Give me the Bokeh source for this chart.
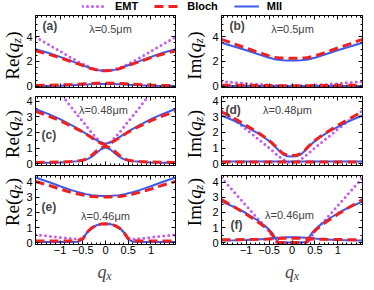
import math
from bokeh.plotting import figure
from bokeh.models import (LinearAxis, FixedTicker, Label, Legend, LegendItem, Range1d)
from bokeh.layouts import column, row
from bokeh.embed import file_html
from bokeh.resources import INLINE

# ---------------- data ----------------
X = [-1.54, -1.25, -1.0, -0.75, -0.6, -0.5, -0.45, -0.4, -0.35, -0.3, -0.2, -0.1, 0.0,
     0.1, 0.2, 0.3, 0.35, 0.4, 0.45, 0.5, 0.6, 0.75, 1.0, 1.25, 1.54]

# (a) Re(qz), lambda = 0.5 um
EMT_a_up = [3.97, 3.35, 2.82, 2.28, 1.98, 1.80, 1.71, 1.62, 1.54, 1.46, 1.34, 1.27, 1.25,
            1.27, 1.34, 1.46, 1.54, 1.62, 1.71, 1.80, 1.98, 2.28, 2.82, 3.35, 3.97]
BL_a_up = [2.85, 2.58, 2.30, 1.98, 1.80, 1.67, 1.60, 1.54, 1.47, 1.41, 1.32, 1.26, 1.24,
           1.26, 1.32, 1.41, 1.47, 1.54, 1.60, 1.67, 1.80, 1.98, 2.30, 2.58, 2.85]
MII_a_up = [2.98, 2.68, 2.37, 2.02, 1.82, 1.69, 1.62, 1.55, 1.48, 1.42, 1.32, 1.26, 1.24,
            1.26, 1.32, 1.42, 1.48, 1.55, 1.62, 1.69, 1.82, 2.02, 2.37, 2.68, 2.98]
BL_a_lo = [0.06, 0.08, 0.10, 0.14, 0.17, 0.19, 0.20, 0.21, 0.22, 0.23, 0.24, 0.25, 0.25,
           0.25, 0.24, 0.23, 0.22, 0.21, 0.20, 0.19, 0.17, 0.14, 0.10, 0.08, 0.06]
MII_a_lo = [0.02, 0.03, 0.05, 0.08, 0.11, 0.13, 0.14, 0.15, 0.16, 0.17, 0.18, 0.19, 0.19,
            0.19, 0.18, 0.17, 0.16, 0.15, 0.14, 0.13, 0.11, 0.08, 0.05, 0.03, 0.02]

# (b) Im(qz), lambda = 0.5 um
BL_b_up = [3.78, 3.40, 3.08, 2.75, 2.57, 2.45, 2.40, 2.35, 2.32, 2.30, 2.27, 2.25, 2.25,
           2.25, 2.27, 2.30, 2.32, 2.35, 2.40, 2.45, 2.57, 2.75, 3.08, 3.40, 3.78]
MII_b_up = [3.50, 3.18, 2.90, 2.60, 2.42, 2.30, 2.25, 2.20, 2.16, 2.13, 2.10, 2.08, 2.08,
            2.08, 2.10, 2.13, 2.16, 2.20, 2.25, 2.30, 2.42, 2.60, 2.90, 3.18, 3.50]
EMT_b_lo = [0.38, 0.30, 0.22, 0.15, 0.12, 0.10, 0.09, 0.08, 0.07, 0.06, 0.05, 0.05, 0.05,
            0.05, 0.05, 0.06, 0.07, 0.08, 0.09, 0.10, 0.12, 0.15, 0.22, 0.30, 0.38]
BL_b_lo = [0.08, 0.08, 0.07, 0.07, 0.06, 0.06, 0.06, 0.05, 0.05, 0.05, 0.05, 0.05, 0.05,
           0.05, 0.05, 0.05, 0.05, 0.05, 0.06, 0.06, 0.06, 0.07, 0.07, 0.08, 0.08]
MII_b_lo = [0.02, 0.02, 0.02, 0.02, 0.02, 0.02, 0.02, 0.02, 0.02, 0.02, 0.02, 0.02, 0.02,
            0.02, 0.02, 0.02, 0.02, 0.02, 0.02, 0.02, 0.02, 0.02, 0.02, 0.02, 0.02]

# (c) Re(qz), lambda = 0.48 um
EMT_c_up = [6.20, 5.30, 4.55, 3.60, 3.05, 2.70, 2.52, 2.33, 2.15, 1.97, 1.65, 1.38, 1.25,
            1.38, 1.65, 1.97, 2.15, 2.33, 2.52, 2.70, 3.05, 3.60, 4.55, 5.30, 6.20]
BL_c_up = [3.35, 3.05, 2.75, 2.40, 2.18, 2.02, 1.93, 1.84, 1.75, 1.65, 1.47, 1.30, 1.22,
           1.30, 1.47, 1.65, 1.75, 1.84, 1.93, 2.02, 2.18, 2.40, 2.75, 3.05, 3.35]
MII_c_up = [3.50, 3.17, 2.85, 2.47, 2.22, 2.05, 1.96, 1.87, 1.78, 1.68, 1.50, 1.35, 1.28,
            1.35, 1.50, 1.68, 1.78, 1.87, 1.96, 2.05, 2.22, 2.47, 2.85, 3.17, 3.50]
BL_c_lo = [0.08, 0.09, 0.10, 0.13, 0.17, 0.22, 0.27, 0.34, 0.43, 0.54, 0.80, 1.02, 1.12,
           1.02, 0.80, 0.54, 0.43, 0.34, 0.27, 0.22, 0.17, 0.13, 0.10, 0.09, 0.08]
MII_c_lo = [0.05, 0.06, 0.08, 0.12, 0.16, 0.20, 0.24, 0.29, 0.36, 0.45, 0.68, 0.92, 1.05,
            0.92, 0.68, 0.45, 0.36, 0.29, 0.24, 0.20, 0.16, 0.12, 0.08, 0.06, 0.05]

# (d) Im(qz), lambda = 0.48 um
EMT_d = [3.40, 2.78, 2.20, 1.60, 1.25, 1.00, 0.88, 0.75, 0.62, 0.50, 0.28, 0.10, 0.03,
         0.10, 0.28, 0.50, 0.62, 0.75, 0.88, 1.00, 1.25, 1.60, 2.20, 2.78, 3.40]
BL_d_up = [3.32, 2.88, 2.45, 2.00, 1.70, 1.48, 1.36, 1.22, 1.08, 0.92, 0.66, 0.54, 0.52,
           0.54, 0.66, 0.92, 1.08, 1.22, 1.36, 1.48, 1.70, 2.00, 2.45, 2.88, 3.32]
MII_d_up = [3.08, 2.72, 2.36, 1.95, 1.66, 1.44, 1.32, 1.18, 1.03, 0.87, 0.60, 0.47, 0.45,
            0.47, 0.60, 0.87, 1.03, 1.18, 1.32, 1.44, 1.66, 1.95, 2.36, 2.72, 3.08]
BL_d_lo = [0.10, 0.10, 0.10, 0.10, 0.10, 0.10, 0.10, 0.10, 0.10, 0.10, 0.10, 0.10, 0.10,
           0.10, 0.10, 0.10, 0.10, 0.10, 0.10, 0.10, 0.10, 0.10, 0.10, 0.10, 0.10]
MII_d_lo = [0.13, 0.13, 0.13, 0.13, 0.13, 0.13, 0.13, 0.13, 0.13, 0.13, 0.13, 0.13, 0.13,
            0.13, 0.13, 0.13, 0.13, 0.13, 0.13, 0.13, 0.13, 0.13, 0.13, 0.13, 0.13]

# (e) Re(qz), lambda = 0.46 um
MII_e_up = [4.32, 4.02, 3.74, 3.48, 3.35, 3.27, 3.23, 3.20, 3.17, 3.15, 3.12, 3.10, 3.10,
            3.10, 3.12, 3.15, 3.17, 3.20, 3.23, 3.27, 3.35, 3.48, 3.74, 4.02, 4.32]
BL_e_up = [4.05, 3.80, 3.55, 3.33, 3.22, 3.16, 3.13, 3.10, 3.08, 3.06, 3.04, 3.03, 3.03,
           3.03, 3.04, 3.06, 3.08, 3.10, 3.13, 3.16, 3.22, 3.33, 3.55, 3.80, 4.05]
EMT_e_lo = [0.52, 0.43, 0.35, 0.27, 0.22, 0.30, 0.50, 0.70, 0.86, 0.98, 1.15, 1.23, 1.25,
            1.23, 1.15, 0.98, 0.86, 0.70, 0.50, 0.30, 0.22, 0.27, 0.35, 0.43, 0.52]
BL_e_lo = [0.12, 0.12, 0.12, 0.12, 0.13, 0.25, 0.48, 0.70, 0.86, 0.98, 1.15, 1.23, 1.25,
           1.23, 1.15, 0.98, 0.86, 0.70, 0.48, 0.25, 0.13, 0.12, 0.12, 0.12, 0.12]
MII_e_lo = [0.05, 0.05, 0.05, 0.05, 0.07, 0.22, 0.47, 0.70, 0.86, 0.98, 1.15, 1.23, 1.25,
            1.23, 1.15, 0.98, 0.86, 0.70, 0.47, 0.22, 0.07, 0.05, 0.05, 0.05, 0.05]

# (f) Im(qz), lambda = 0.46 um
EMT_f = [4.30, 3.30, 2.45, 1.60, 1.10, 0.75, 0.52, 0.20, 0.03, 0.02, 0.02, 0.02, 0.02,
         0.02, 0.02, 0.02, 0.03, 0.20, 0.52, 0.75, 1.10, 1.60, 2.45, 3.30, 4.30]
BL_f_up = [2.85, 2.35, 1.88, 1.38, 1.05, 0.80, 0.62, 0.40, 0.10, 0.02, 0.02, 0.02, 0.02,
           0.02, 0.02, 0.02, 0.10, 0.40, 0.62, 0.80, 1.05, 1.38, 1.88, 2.35, 2.85]
MII_f_up = [2.72, 2.35, 1.95, 1.47, 1.13, 0.87, 0.70, 0.48, 0.22, 0.05, 0.02, 0.02, 0.02,
            0.02, 0.02, 0.05, 0.22, 0.48, 0.70, 0.87, 1.13, 1.47, 1.95, 2.35, 2.72]
BL_f_lo = [0.20, 0.20, 0.21, 0.22, 0.23, 0.24, 0.25, 0.26, 0.27, 0.28, 0.29, 0.30, 0.30,
           0.30, 0.29, 0.28, 0.27, 0.26, 0.25, 0.24, 0.23, 0.22, 0.21, 0.20, 0.20]
MII_f_lo = [0.15, 0.16, 0.18, 0.21, 0.24, 0.27, 0.29, 0.31, 0.32, 0.33, 0.35, 0.36, 0.36,
            0.36, 0.35, 0.33, 0.32, 0.31, 0.29, 0.27, 0.24, 0.21, 0.18, 0.16, 0.15]

# ticks
X_TICKS = [-1, -0.5, 0, 0.5, 1]
X_TICK_LABELS = ["\u22121", "\u22120.5", "0", "0.5", "1"]
X_MINOR = [-1.5, -1.4, -1.3, -1.2, -1.1, -0.9, -0.8, -0.7, -0.6, -0.4, -0.3, -0.2, -0.1,
           0.1, 0.2, 0.3, 0.4, 0.6, 0.7, 0.8, 0.9, 1.1, 1.2, 1.3, 1.4, 1.5]
Y1_TICKS = [0, 2, 4]
Y1_MINOR = [0.5, 1, 1.5, 2.5, 3, 3.5, 4.5, 5, 5.5]
Y2_TICKS = [0, 1, 2, 3, 4]
Y2_MINOR = [0.5, 1.5, 2.5, 3.5]

LAMBDAS = ["\u03bb=0.5\u03bcm", "\u03bb=0.48\u03bcm", "\u03bb=0.46\u03bcm"]
NAMES = ["EMT", "Bloch", "MII"]

# ---------------- styling ----------------
STYLE = {
    "EMT": dict(line_color="#c65cf0", line_width=3, line_dash="0 5", line_cap="round"),
    "Bloch": dict(line_color="#ee2020", line_width=3, line_dash="9 5", line_cap="butt"),
    "MII": dict(line_color="#3b5bea", line_width=2, line_dash="solid", line_cap="butt"),
}
SANS = "Liberation Sans"
SERIF = "Liberation Serif"
XR = (-1.54, 1.54)


def style_axis(ax, ticks, minor, labels, standoff=4):
    ax.ticker = FixedTicker(ticks=ticks, minor_ticks=minor)
    if labels is None:
        ax.major_label_overrides = {t: "" for t in ticks}
    else:
        ax.major_label_overrides = {t: l for t, l in zip(ticks, labels)}
    ax.major_tick_in = 4
    ax.major_tick_out = 0
    ax.minor_tick_in = 2
    ax.minor_tick_out = 0
    ax.axis_line_color = "black"
    ax.major_tick_line_color = "black"
    ax.minor_tick_line_color = "black"
    ax.major_label_text_font = SANS
    ax.major_label_text_font_size = "11px"
    ax.major_label_text_color = "black"
    ax.major_label_standoff = standoff
    ax.axis_label_standoff = 0


def blank(width, height):
    s = figure(width=width, height=height, x_range=Range1d(0, 1), y_range=Range1d(0, 1),
               x_axis_type=None, y_axis_type=None, output_backend="svg",
               toolbar_location=None, min_border=0)
    s.outline_line_color = None
    s.background_fill_color = "white"
    s.border_fill_color = "white"
    return s


def make_panel(width, height, bl, br, bt, bb, yr, yt, ym, series, letter, letter_pos,
               lam, lam_pos, bottom_labels):
    p = figure(width=width, height=height, x_range=Range1d(*XR), y_range=Range1d(*yr),
               x_axis_type=None, y_axis_type=None, output_backend="svg",
               toolbar_location=None, min_border_left=bl, min_border_right=br,
               min_border_top=bt, min_border_bottom=bb)
    p.outline_line_color = "black"
    p.background_fill_color = "white"
    p.border_fill_color = "white"

    left = LinearAxis()
    style_axis(left, yt, ym, [str(t) for t in yt], 3)
    p.add_layout(left, "left")
    right = LinearAxis()
    style_axis(right, yt, ym, None, 0)
    p.add_layout(right, "right")
    below = LinearAxis()
    style_axis(below, X_TICKS, X_MINOR, X_TICK_LABELS if bottom_labels else None, 1 if bottom_labels else 0)
    p.add_layout(below, "below")
    above = LinearAxis()
    style_axis(above, X_TICKS, X_MINOR, None, 0)
    p.add_layout(above, "above")

    order = {"EMT": 0, "MII": 1, "Bloch": 2}
    for name, ys in sorted(series, key=lambda s: order[s[0]]):
        p.line(X, ys, **STYLE[name])

    p.add_layout(Label(x=letter_pos[0], y=letter_pos[1], x_units="screen", y_units="screen",
                       text=letter, text_font=SANS, text_font_size="12px",
                       text_font_style="bold", text_baseline="middle", text_align="left"))
    p.add_layout(Label(x=lam_pos[0], y=lam_pos[1], x_units="screen", y_units="screen",
                       text=lam, text_font=SANS, text_font_size="11px",
                       text_baseline="middle", text_align="center"))
    return p


def ylabel_strip(width, height, bb, fh, prefix, mid_x):
    s = blank(width, height)
    fs = 19
    w_pre = 27.4
    w_q = 9.5
    w_z = 5.1
    w_par = 6.3
    total = w_pre + w_q + w_z + w_par
    y0 = bb + fh / 2 - total / 2 - 8
    pieces = [
        (prefix + "(", y0 + w_pre / 2, mid_x, "normal", fs),
        ("q", y0 + w_pre + w_q / 2, mid_x, "italic", fs),
        ("z", y0 + w_pre + w_q + w_z / 2 - 0.5, mid_x + 4, "italic", 13),
        (")", y0 + w_pre + w_q + w_z + w_par / 2, mid_x, "normal", fs),
    ]
    for txt, yy, xx, sty, size in pieces:
        s.add_layout(Label(x=xx, y=yy, x_units="screen", y_units="screen", text=txt,
                           angle=math.pi / 2, text_font=SERIF, text_font_size=f"{size}px",
                           text_font_style=sty, text_baseline="middle",
                           text_align="center", text_color="black"))
    return s


SL_W, LW, LBL, LBR = 23, 159, 10, 7
SR_W, RW, RBL, RBR = 24, 160, 15, 4
ROWS = [
    dict(h=77, bt=1, bb=4, yr=(-0.1, 5.7), yt=Y1_TICKS, ym=Y1_MINOR, xl=False),
    dict(h=79, bt=5, bb=5, yr=(-0.12, 4.3), yt=Y2_TICKS, ym=Y2_MINOR, xl=False),
    dict(h=90, bt=5, bb=16, yr=(-0.12, 4.45), yt=Y2_TICKS, ym=Y2_MINOR, xl=True),
]

LEFT_SERIES = [
    [("EMT", EMT_a_up), ("Bloch", BL_a_up), ("Bloch", BL_a_lo), ("MII", MII_a_up), ("MII", MII_a_lo)],
    [("EMT", EMT_c_up), ("Bloch", BL_c_up), ("Bloch", BL_c_lo), ("MII", MII_c_up), ("MII", MII_c_lo)],
    [("EMT", EMT_e_lo), ("Bloch", BL_e_up), ("Bloch", BL_e_lo), ("MII", MII_e_up), ("MII", MII_e_lo)],
]
RIGHT_SERIES = [
    [("EMT", EMT_b_lo), ("Bloch", BL_b_up), ("Bloch", BL_b_lo), ("MII", MII_b_up), ("MII", MII_b_lo)],
    [("EMT", EMT_d), ("Bloch", BL_d_up), ("Bloch", BL_d_lo), ("MII", MII_d_up), ("MII", MII_d_lo)],
    [("EMT", EMT_f), ("Bloch", BL_f_up), ("Bloch", BL_f_lo), ("MII", MII_f_up), ("MII", MII_f_lo)],
]
LEFT_LETTERS = [("(a)", (7, 62), (75, 59)), ("(c)", (6, 31), (68, 56)), ("(e)", (6, 38), (70, 29))]
RIGHT_LETTERS = [("(b)", (8, 62), (71, 59)), ("(d)", (4, 56), (66, 56)), ("(f)", (9, 20), (68, 30))]

rows = []
for i, rc in enumerate(ROWS):
    fh = rc["h"] - rc["bt"] - rc["bb"]
    lt, lpos, lampos = LEFT_LETTERS[i]
    sl = ylabel_strip(SL_W, rc["h"], rc["bb"], fh, "Re", 11.5)
    pl = make_panel(LW, rc["h"], LBL, LBR, rc["bt"], rc["bb"], rc["yr"], rc["yt"], rc["ym"],
                    LEFT_SERIES[i], lt, lpos, LAMBDAS[i], lampos, rc["xl"])
    sr = ylabel_strip(SR_W, rc["h"], rc["bb"], fh, "Im", 12)
    rt, rpos, rlampos = RIGHT_LETTERS[i]
    pr = make_panel(RW, rc["h"], RBL, RBR, rc["bt"], rc["bb"], rc["yr"], rc["yt"], rc["ym"],
                    RIGHT_SERIES[i], rt, rpos, LAMBDAS[i], rlampos, rc["xl"])
    rows.append(row(sl, pl, sr, pr))

# bottom strip with the x-axis labels  q_x
TOTAL_W = SL_W + LW + SR_W + RW
BS_H = 22
bs = blank(TOTAL_W, BS_H)
for cx in (SL_W + LBL + (LW - LBL - LBR) / 2, SL_W + LW + SR_W + RBL + (RW - RBL - RBR) / 2):
    bs.add_layout(Label(x=cx - 2.5, y=11, x_units="screen", y_units="screen", text="q",
                        text_font=SERIF, text_font_size="18px", text_font_style="italic",
                        text_baseline="middle", text_align="center"))
    bs.add_layout(Label(x=cx + 4.5, y=7, x_units="screen", y_units="screen", text="x",
                        text_font=SERIF, text_font_size="12px", text_font_style="italic",
                        text_baseline="middle", text_align="center"))

# legend strip
lf = figure(width=TOTAL_W, height=14, x_range=Range1d(0, 1), y_range=Range1d(0, 1),
            x_axis_type=None, y_axis_type=None, output_backend="svg",
            toolbar_location=None, min_border=0)
lf.outline_line_color = None
items = []
SAMPLE = {"EMT": EMT_a_up, "Bloch": BL_a_up, "MII": MII_a_up}
for name in NAMES:
    r = lf.line(x=X[:2], y=SAMPLE[name][:2], **STYLE[name])
    items.append(LegendItem(label=name, renderers=[r]))
leg = Legend(items=items, orientation="horizontal", location=(82, 2), padding=0, margin=0,
             spacing=16, glyph_width=25, glyph_height=12, label_height=12, label_standoff=8,
             border_line_color=None, background_fill_alpha=0, label_text_color="black",
             label_text_font=SANS, label_text_font_size="11px", label_text_font_style="bold")
lf.add_layout(leg, "center")

layout = column(lf, *rows, bs)
open("out.html", "w").write(file_html(layout, INLINE))
